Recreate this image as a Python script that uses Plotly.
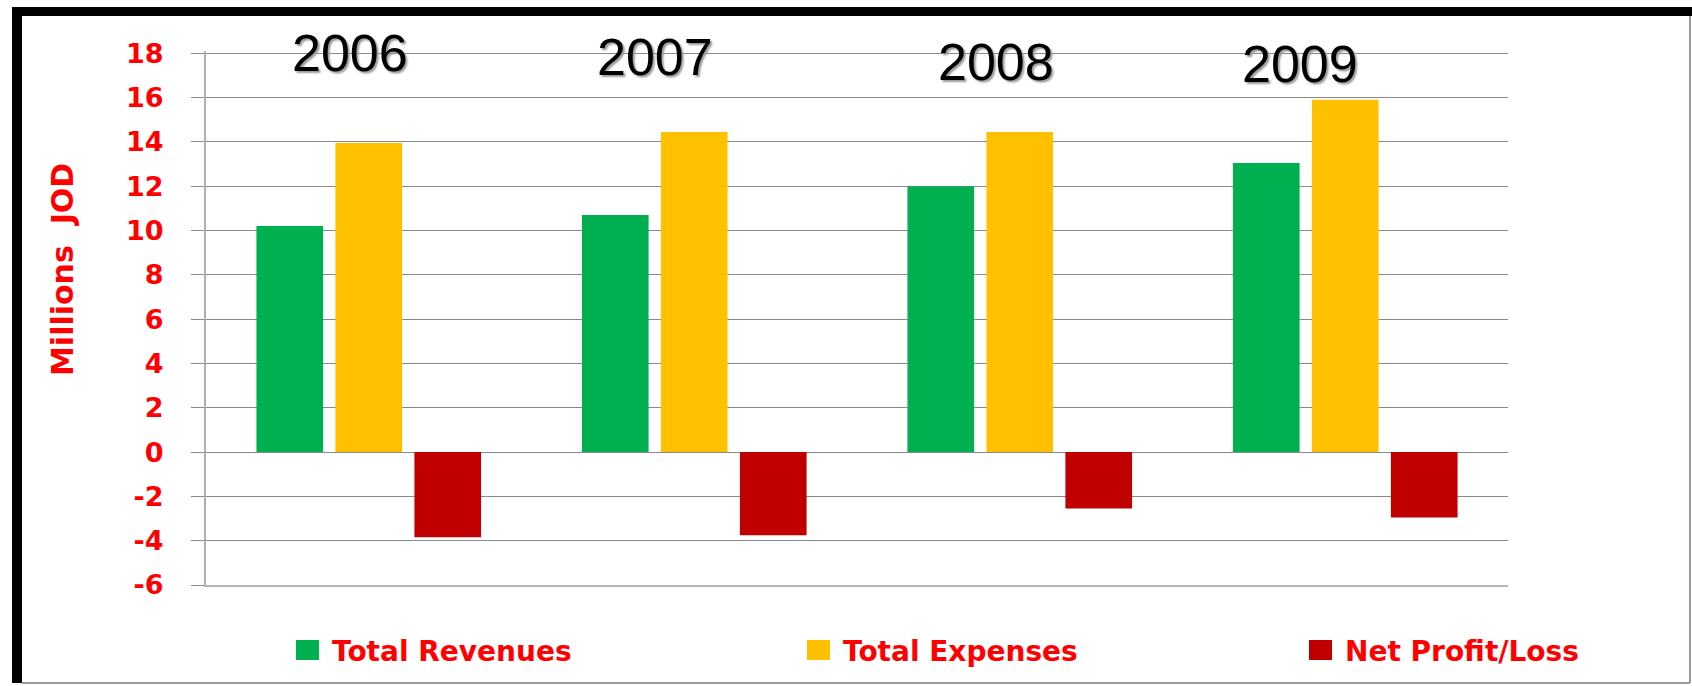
import plotly.graph_objects as go

# ---- data ----
years = ["2006", "2007", "2008", "2009"]
total_revenues = [10.2, 10.7, 12.0, 13.05]
total_expenses = [13.95, 14.45, 14.45, 15.9]
net_profit_loss = [-3.85, -3.75, -2.55, -2.95]
series_names = ["Total Revenues", "Total Expenses", "Net Profit/Loss"]
series_colors = ["#00B050", "#FFC000", "#C00000"]
y_ticks = [-6, -4, -2, 0, 2, 4, 6, 8, 10, 12, 14, 16, 18]
y_ticktext = ["-6", "-4", "-2", "0", "2", "4", "6", "8", "10", "12", "14", "16", "18"]
y_title = "Millions  JOD"

# year label placement (layout, px offsets / data heights)
year_label_y = [18.0, 17.85, 17.6, 17.5]
year_label_dx = [-19, -39, -24, -45]

W, H = 1692, 686
L, R, T, B = 206, 1508, 51, 585  # plot area in px (y range -6 .. 18.1)


def px(x):
    return (x - L) / (R - L)


def py(y):
    return (B - y) / (B - T)


fig = go.Figure()
for name, vals, col in zip(series_names,
                           [total_revenues, total_expenses, net_profit_loss],
                           series_colors):
    fig.add_trace(go.Bar(x=years, y=vals, name=name, marker_color=col,
                         marker_line_width=0, showlegend=False))

annotations = []
for i, (yr, yy, dx) in enumerate(zip(years, year_label_y, year_label_dx)):
    annotations.append(dict(
        x=i, y=yy, xref="x", yref="y", text=yr, showarrow=False,
        xshift=dx, xanchor="center", yanchor="middle",
        font=dict(family="Liberation Sans, Arial", size=52, color="black",
                  shadow="2px 2px 2px #9a9a9a")))

# y-axis title
annotations.append(dict(
    x=px(62), y=py(270), xref="paper", yref="paper", text=y_title,
    showarrow=False, textangle=-90, xanchor="center", yanchor="middle",
    font=dict(family="DejaVu Sans", size=30, color="#FF0000", weight="bold")))

# custom legend
legend_x = [296, 807, 1309]
shapes = []
for name, col, lx in zip(series_names, series_colors, legend_x):
    shapes.append(dict(type="rect", xref="paper", yref="paper",
                       x0=px(lx), x1=px(lx + 23), y0=py(660), y1=py(640),
                       fillcolor=col, line=dict(width=0)))
    annotations.append(dict(
        x=px(lx + 34), y=py(651), xref="paper", yref="paper", text=name,
        showarrow=False, xanchor="left", yanchor="middle",
        font=dict(family="DejaVu Sans", size=28, color="#FF0000",
                  weight="bold")))

# frame
shapes += [
    dict(type="rect", xref="paper", yref="paper", x0=px(12), x1=px(22),
         y0=py(683), y1=py(7), fillcolor="black", line=dict(width=0)),
    dict(type="rect", xref="paper", yref="paper", x0=px(12), x1=px(1692),
         y0=py(16), y1=py(7), fillcolor="black", line=dict(width=0)),
    dict(type="line", xref="paper", yref="paper", x0=px(1690), x1=px(1690),
         y0=py(683), y1=py(16), line=dict(color="#9a9a9a", width=2)),
    dict(type="line", xref="paper", yref="paper", x0=px(22), x1=px(1690),
         y0=py(683), y1=py(683), line=dict(color="#9a9a9a", width=2)),
]

fig.update_layout(
    width=W, height=H,
    margin=dict(l=L, r=W - R, t=T, b=H - B, pad=0),
    paper_bgcolor="white", plot_bgcolor="white",
    barmode="group", bargap=0.272, bargroupgap=0.156,
    annotations=annotations, shapes=shapes,
    xaxis=dict(type="category", showticklabels=False, ticks="",
               showgrid=False, showline=True, linecolor="#b5b5b5",
               linewidth=2, range=[-0.5, 3.5], fixedrange=True),
    yaxis=dict(range=[-6, 18.1], tickvals=y_ticks, ticktext=y_ticktext,
               showgrid=True, gridcolor="#8a8a8a", gridwidth=1,
               zeroline=True, zerolinecolor="#8a8a8a", zerolinewidth=1,
               showline=True, linecolor="#b0b0b0", linewidth=2,
               ticks="outside", ticklen=13, tickcolor="#8a8a8a",
               tickwidth=1, ticklabelstandoff=22,
               tickfont=dict(family="DejaVu Sans", size=27, color="#FF0000",
                             weight="bold")),
    showlegend=False,
)

fig.write_html("out.html")
